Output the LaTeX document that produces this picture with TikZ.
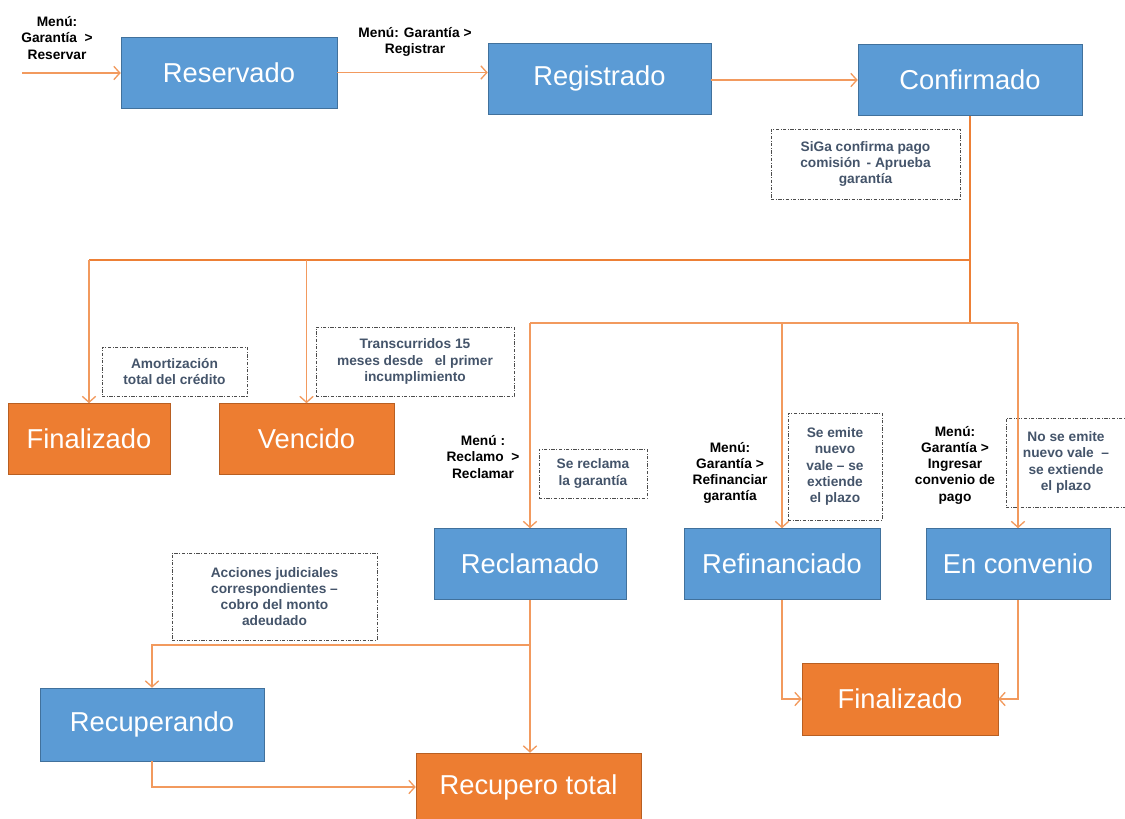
\documentclass[tikz,border=0pt]{standalone}
\usepackage{fontspec}
\setmainfont{Liberation Sans}
\usepackage{tikz}
\usetikzlibrary{positioning,calc,arrows.meta}
\definecolor{azul}{HTML}{5B9BD5}
\definecolor{azulborde}{HTML}{41719C}
\definecolor{naranja}{HTML}{ED7D31}
\definecolor{naranjaborde}{HTML}{B85F22}
\definecolor{flecha}{HTML}{F29A5E}
\definecolor{notatexto}{HTML}{44546A}
\tikzset{
	estado/.style={draw=azulborde,fill=azul,text=white,minimum height=53.25pt,inner sep=0pt,font=\fontsize{20.5}{24}\selectfont},
	fin/.style={estado,draw=naranjaborde,fill=naranja},
	nota/.style={draw=black!70,line width=0.6pt,dash pattern=on 2.5pt off 1.2pt on 0.6pt off 1.2pt,text=notatexto,align=center,inner sep=0pt,font=\bfseries\fontsize{10.3}{12.2}\selectfont},
	menu/.style={align=center,inner sep=0pt,font=\bfseries\fontsize{10.3}{12.2}\selectfont},
	arr/.style={draw=flecha,line width=1pt,-{Straight Barb[length=4.5pt,width=10pt]}},
	linea/.style={draw=flecha,line width=1.2pt},
	tronco/.style={draw=naranja!90!flecha,line width=2.2pt}
}
\begin{document}
\begin{tikzpicture}[x=0.75pt,y=-0.75pt]
\useasboundingbox (0,0) rectangle (1125,818);

%Estados
\node[estado,minimum width=162pt] (resv) at (229,72.5) {Reservado};
\node[estado,minimum width=167.25pt] (regi) at (599.5,78.5) {Registrado};
\node[estado,minimum width=168pt] (conf) at (970,80) {Confirmado};
\node[fin,minimum width=121.5pt] (fin1) at (89,439) {Finalizado};
\node[fin,minimum width=131.25pt] (venc) at (306.5,439) {Vencido};
\node[estado,minimum width=144pt] (recl) at (530,564) {Reclamado};
\node[estado,minimum width=147pt] (refi) at (782,564) {Refinanciado};
\node[estado,minimum width=138pt] (conv) at (1018,564) {En convenio};
\node[estado,minimum width=168pt,minimum height=54.75pt] (recu) at (152,724.5) {Recuperando};
\node[fin,minimum width=168.75pt,minimum height=51pt] (rtot) at (528.5,787) {Recupero total};
\node[fin,minimum width=147pt,minimum height=54pt] (fin2) at (900,699) {Finalizado};

%Notas
\node[nota,minimum width=141.75pt,minimum height=52.5pt] (n1) at (865.5,164) {SiGa confirma pago\\comisión \,- Aprueba\\garantía};
\node[nota,minimum width=108.75pt,minimum height=36.75pt] (n2) at (174.5,371.5) {Amortización\\total del crédito};
\node[nota,minimum width=148.5pt,minimum height=51.75pt] (n3) at (415,361.5) {Transcurridos 15\\meses desde \ \ el primer\\incumplimiento};
\node[nota,minimum width=81pt,minimum height=36.75pt] (n4) at (593,473.5) {Se reclama\\la garantía};
\node[nota,minimum width=70.5pt,minimum height=80.25pt] (n5) at (835,466.5) {Se emite\\nuevo\\vale -- se\\extiende\\el plazo};
\node[nota,minimum width=90pt,minimum height=66.75pt] (n6) at (1066,462.5) {No se emite\\nuevo vale \ --\\se extiende\\el plazo};
\node[nota,minimum width=153.75pt,minimum height=65.25pt] (n7) at (274.5,596.5) {Acciones judiciales\\correspondientes --\\cobro del monto\\adeudado};

%Menus
\node[menu] (m0) at (57,38) {Menú:\\Garantía \ >\\Reservar};
\node[menu] (m1) at (415,42) {Menú: Garantía >\\Registrar};
\node[menu] (m2) at (483,457) {Menú :\\Reclamo \ >\\Reclamar};
\node[menu] (m3) at (730,473) {Menú:\\Garantía >\\Refinanciar\\garantía};
\node[menu] (m4) at (955,465) {Menú:\\Garantía >\\Ingresar\\convenio de\\pago};

%Puntos de union
\coordinate (ini) at (22,73);
\coordinate (j1) at (970,260);
\coordinate (j2) at (970,323);
\coordinate (j3) at (530,645);

%Flechas
\draw[arr] (ini) -- (ini -| resv.west);
\draw[arr] (resv.east) -- (resv.east -| regi.west);
\draw[arr] (regi.east |- conf.west) -- (conf.west);
\draw[tronco] (conf.south) -- (j2);
\draw[tronco] (j1) -- (j1 -| fin1.north);
\draw[arr] (j1 -| fin1.north) -- (fin1.north);
\draw[arr] (j1 -| venc.north) -- (venc.north);
\draw[linea] (j2 -| recl.north) -- (j2 -| conv.north);
\draw[arr] (j2 -| recl.north) -- (recl.north);
\draw[arr] (j2 -| refi.north) -- (refi.north);
\draw[arr] (j2 -| conv.north) -- (conv.north);
\draw[arr] (recl.south) -- (j3) -| (recu.north);
\draw[arr] (j3) -- (j3 |- rtot.north);
\draw[arr] (recu.south) |- (rtot.west);
\draw[arr] (refi.south) |- (fin2.west);
\draw[arr] (conv.south) |- (fin2.east);

\end{tikzpicture}
\end{document}
